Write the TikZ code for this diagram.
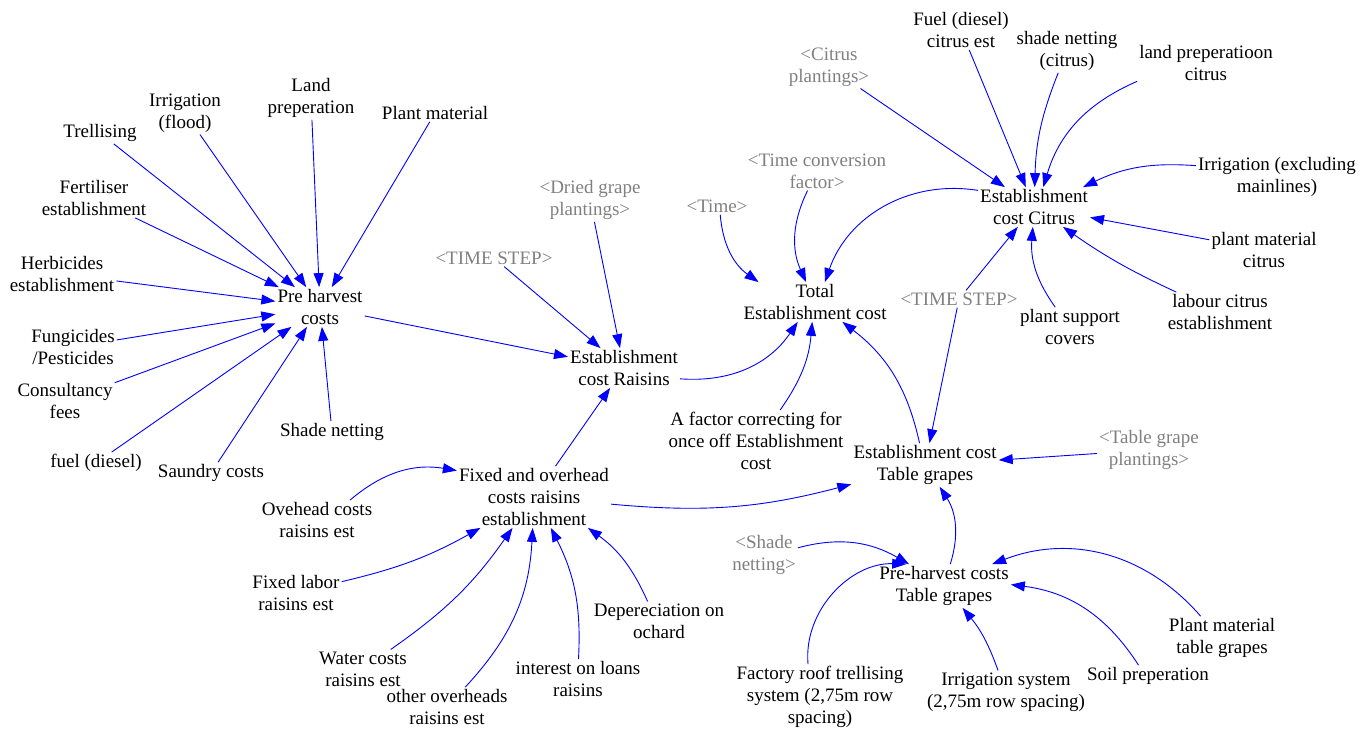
\documentclass[tikz,border=0pt]{standalone}
\usepackage{fontspec}
\setmainfont{Liberation Serif}
\usetikzlibrary{arrows.meta}
\begin{document}
\begin{tikzpicture}[
        x=1pt, y=-1pt,
        var/.style={align=center, inner sep=2pt, font=\fontsize{19}{22}\selectfont},
        shadow/.style={var, text=black!50},
        link/.style={draw=blue, line width=0.9pt, -{Triangle[length=14pt,width=10pt]}}
    ]
    \useasboundingbox (0,0) rectangle (1371,731);
    \node[var] (tre) at (100,133) {Trellising};
    \node[var] (irf) at (185,113) {Irrigation\\(flood)};
    \node[var] (lnd) at (311,98) {Land\\preperation};
    \node[var] (plm) at (435,113) {Plant material};
    \node[var] (fer) at (94,198) {Fertiliser\\establishment};
    \node[var] (her) at (62,274) {Herbicides\\establishment};
    \node[var] (phc) at (320,307) {Pre harvest\\costs};
    \node[var] (fun) at (73,347) {Fungicides\\/Pesticides};
    \node[var] (con) at (65,401) {Consultancy\\fees};
    \node[var] (fue) at (96,463) {fuel (diesel)};
    \node[var] (sau) at (211,473) {Saundry costs};
    \node[var] (shn) at (332,432) {Shade netting};
    \node[shadow] (tsl) at (494,258) {\textless TIME STEP\textgreater};
    \node[shadow] (dgp) at (590,200) {\textless Dried grape\\plantings\textgreater};
    \node[var] (ecr) at (624,368) {Establishment\\cost Raisins};
    \node[shadow] (tim) at (717,206) {\textless Time\textgreater};
    \node[shadow] (tcf) at (817,171) {\textless Time conversion\\factor\textgreater};
    \node[var] (tot) at (815,302) {Total\\Establishment cost};
    \node[var] (fac) at (756,441) {A factor correcting for\\once off Establishment\\cost};
    \node[var] (foc) at (534,497) {Fixed and overhead\\costs raisins\\establishment};
    \node[var] (ohc) at (317,520) {Ovehead costs\\raisins est};
    \node[var] (flr) at (296,593) {Fixed labor\\raisins est};
    \node[var] (wcr) at (363,669) {Water costs\\raisins est};
    \node[var] (oor) at (447,707) {other overheads\\raisins est};
    \node[var] (ilr) at (578,679) {interest on loans\\raisins};
    \node[var] (dep) at (659,621) {Depereciation on\\ochard};
    \node[shadow] (cip) at (829,67) {\textless Citrus\\plantings\textgreater};
    \node[var] (fcc) at (961,30) {Fuel (diesel)\\citrus est};
    \node[var] (snc) at (1067,51) {shade netting\\(citrus)};
    \node[var] (lpc) at (1206,63) {land preperatioon\\citrus};
    \node[var] (ecc) at (1034,207) {Establishment\\cost Citrus};
    \node[var] (iex) at (1277,177) {Irrigation (excluding\\mainlines)};
    \node[var] (pmc) at (1264,250) {plant material\\citrus};
    \node[var] (lce) at (1220,312) {labour citrus\\establishment};
    \node[var] (psc) at (1070,327) {plant support\\covers};
    \node[shadow] (tsr) at (959,299) {\textless TIME STEP\textgreater};
    \node[var] (etg) at (925,465) {Establishment cost\\Table grapes};
    \node[shadow] (tgp) at (1149,450) {\textless Table grape\\plantings\textgreater};
    \node[shadow] (shd) at (764,555) {\textless Shade\\netting\textgreater};
    \node[var] (phg) at (944,586) {Pre-harvest costs\\Table grapes};
    \node[var] (frt) at (820,697) {Factory roof trellising\\system (2,75m row\\spacing)};
    \node[var] (irs) at (1006,692) {Irrigation system\\(2,75m row spacing)};
    \node[var] (spr) at (1148,676) {Soil preperation};
    \node[var] (pmt) at (1222,638) {Plant material\\table grapes};
    \draw[link] (tre) -- (phc);
    \draw[link] (irf) -- (phc);
    \draw[link] (lnd) -- (phc);
    \draw[link] (plm) -- (phc);
    \draw[link] (fer) -- (phc);
    \draw[link] (her) -- (phc);
    \draw[link] (fun) -- (phc);
    \draw[link] (con) -- (phc);
    \draw[link] (fue) -- (phc);
    \draw[link] (sau) -- (phc);
    \draw[link] (shn) -- (phc);
    \draw[link] (phc) -- (ecr);
    \draw[link] (tsl) -- (ecr);
    \draw[link] (dgp) -- (ecr);
    \draw[link] (foc) -- (ecr);
    \draw[link] (ecr) to[bend right=30] (tot);
    \draw[link] (fac) to[bend right=15] (tot);
    \draw[link] (etg) to[bend right=20] (tot);
    \draw[link] (ecc) to[bend right=40] (tot);
    \draw[link] (tim) to[bend right=25] (tot);
    \draw[link] (tcf) to[bend right=25] (tot);
    \draw[link] (foc) to[bend right=10] (etg);
    \draw[link] (tsr) -- (etg);
    \draw[link] (tsr) -- (ecc);
    \draw[link] (cip) -- (ecc);
    \draw[link] (fcc) -- (ecc);
    \draw[link] (snc) to[bend right=10] (ecc);
    \draw[link] (lpc) to[bend right=25] (ecc);
    \draw[link] (iex) to[bend right=15] (ecc);
    \draw[link] (pmc) -- (ecc);
    \draw[link] (lce) to[bend left=5] (ecc);
    \draw[link] (psc) to[bend left=20] (ecc);
    \draw[link] (phg) to[bend right=25] (etg);
    \draw[link] (tgp) -- (etg);
    \draw[link] (shd.12) to[out=15, in=150] (phg.148);
    \draw[link] (frt.110) to[out=95, in=178] (phg.150);
    \draw[link] (irs) to[bend right=10] (phg);
    \draw[link] (spr) to[bend right=25] (phg);
    \draw[link] (pmt) to[bend right=35] (phg);
    \draw[link] (ohc) to[bend left=25] (foc);
    \draw[link] (flr) to[bend right=8] (foc);
    \draw[link] (wcr) to[bend right=10] (foc);
    \draw[link] (oor) to[bend right=20] (foc);
    \draw[link] (ilr) to[bend right=15] (foc);
    \draw[link] (dep) to[bend right=15] (foc);
\end{tikzpicture}
\end{document}
